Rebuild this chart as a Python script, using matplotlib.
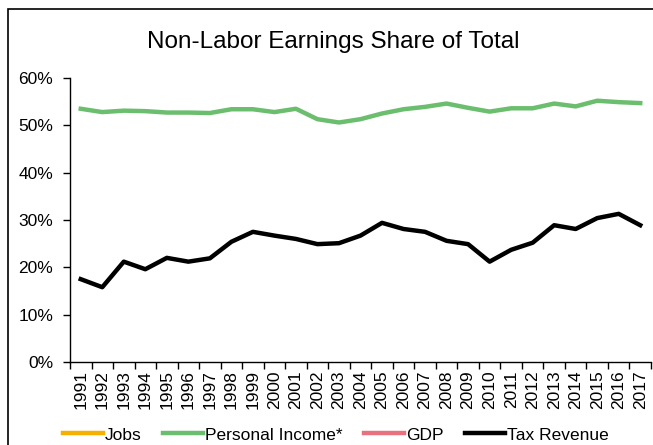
import matplotlib
matplotlib.use("Agg")
import matplotlib.pyplot as plt
from matplotlib.patches import Rectangle
from matplotlib.ticker import FuncFormatter, FixedLocator

plt.rcParams['font.family'] = ['Liberation Sans', 'DejaVu Sans']

years = [str(y) for y in range(1991, 2018)]
jobs = []
personal_income = [53.5, 52.8, 53.1, 53.0, 52.7, 52.7, 52.6, 53.4, 53.4, 52.8, 53.5,
                   51.3, 50.6, 51.3, 52.5, 53.4, 53.9, 54.6, 53.7, 52.9, 53.6, 53.6,
                   54.6, 54.0, 55.2, 54.9, 54.7]
gdp = []
tax_revenue = [17.5, 15.8, 21.2, 19.6, 22.0, 21.2, 21.9, 25.4, 27.5, 26.7, 26.0,
               24.9, 25.1, 26.7, 29.4, 28.1, 27.5, 25.6, 24.9, 21.2, 23.7, 25.2,
               28.9, 28.1, 30.4, 31.3, 28.9]

fig = plt.figure(figsize=(6.53, 4.45), dpi=100)
ax = fig.add_axes([70/653, 1-362/445, (651-70)/653, (362-78)/445])

x = list(range(len(years)))
l1, = ax.plot(list(range(len(jobs))), jobs, color='#F5B000', lw=3.2, label='Jobs')
l2, = ax.plot(x, personal_income, color='#6BBE6E', lw=3.2, label='Personal Income*')
l3, = ax.plot(list(range(len(gdp))), gdp, color='#E8707F', lw=3.2, label='GDP')
l4, = ax.plot(x, tax_revenue, color='black', lw=3.2, label='Tax Revenue')

ax.set_xlim(-0.5, len(years) - 0.5)
ax.set_ylim(0, 60)
ax.set_yticks(range(0, 61, 10))
ax.yaxis.set_major_formatter(FuncFormatter(lambda v, p: f"{int(v)}%"))
ax.set_xticks(x)
ax.set_xticklabels(years, rotation=90, fontsize=12.5)
ax.xaxis.set_minor_locator(FixedLocator([i - 0.5 for i in range(len(years) + 1)]))
ax.tick_params(axis='x', which='major', length=0, pad=6)
ax.tick_params(axis='x', which='minor', length=5, width=1, direction='out')
ax.tick_params(axis='y', length=5, width=1, direction='out', labelsize=12.5, pad=7)
for s in ['top', 'right']:
    ax.spines[s].set_visible(False)
for s in ['left', 'bottom']:
    ax.spines[s].set_color('black')
    ax.spines[s].set_linewidth(1)

fig.text(333/653, 1-42/445, 'Non-Labor Earnings Share of Total', ha='center', va='center', fontsize=17.5)

fig.legend(handles=[l1, l2, l3, l4], loc='center', bbox_to_anchor=(336/653, 1-435/445),
           ncol=4, frameon=False, fontsize=12.5, handlelength=2.3, handletextpad=0.1,
           columnspacing=1.25, borderaxespad=0, borderpad=0)

fig.patches.append(Rectangle((8/653, -0.1), 1.2, 1.1 - 9/445, transform=fig.transFigure,
                             fill=False, edgecolor='black', lw=1.2))

fig.savefig('out.png', dpi=100)
